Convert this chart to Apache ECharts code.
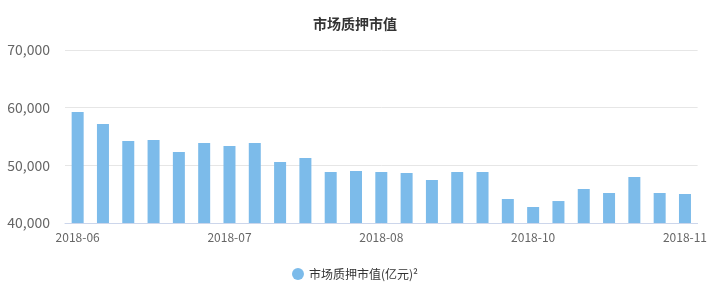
<!DOCTYPE html>
<html>
<head>
<meta charset="utf-8">
<script src="https://cdn.jsdelivr.net/npm/echarts@6/dist/echarts.min.js"></script>
<style>html,body{margin:0;padding:0;background:#fff;}#main{width:710px;height:288px;}</style>
</head>
<body>
<div id="main"></div>
<script>
var titleText = '市场质押市值';
var seriesName = '市场质押市值(亿元)²';
var categories = [
  '2018-06-01','2018-06-08','2018-06-15','2018-06-22','2018-06-29','2018-07-06',
  '2018-07-13','2018-07-20','2018-07-27','2018-08-03','2018-08-10','2018-08-17',
  '2018-08-24','2018-08-31','2018-09-07','2018-09-14','2018-09-21','2018-09-28',
  '2018-10-12','2018-10-19','2018-10-26','2018-11-02','2018-11-09','2018-11-16',
  '2018-11-23'
];
var values = [
  59250, 57170, 54220, 54390, 52310, 53870,
  53350, 53870, 50580, 51270, 48840, 49020,
  48840, 48670, 47460, 48840, 48840, 44160,
  42770, 43810, 45900, 45200, 47980, 45200,
  45030
];
var yMin = 40000, yMax = 70000, yStep = 10000;

var font = '"Microsoft YaHei","Noto Sans CJK SC",sans-serif';
var chart = echarts.init(document.getElementById('main'));
chart.setOption({
  animation: false,
  textStyle: { fontFamily: font },
  title: {
    text: titleText, left: 'center', top: 12,
    textStyle: { fontSize: 14, fontWeight: 'bold', color: '#333', fontFamily: font }
  },
  legend: {
    bottom: 3, left: 'center', icon: 'circle', itemWidth: 12, itemHeight: 12, itemGap: 10,
    textStyle: { fontSize: 12, color: '#333', fontFamily: font },
    data: [seriesName]
  },
  grid: { left: 65, right: 11, top: 50, bottom: 65, containLabel: false },
  xAxis: {
    type: 'category', data: categories, boundaryGap: true,
    axisLine: { lineStyle: { color: '#ccd6eb' } },
    axisTick: { alignWithLabel: true, interval: 5, length: 6, lineStyle: { color: '#ccd6eb' } },
    axisLabel: {
      interval: 5, fontSize: 12, color: '#666', margin: 8,
      formatter: function (v) { return v.slice(0, 7); }
    }
  },
  yAxis: {
    type: 'value', min: yMin, max: yMax, interval: yStep,
    axisLine: { show: false }, axisTick: { show: false },
    splitLine: { lineStyle: { color: '#e6e6e6' } },
    axisLabel: {
      fontSize: 14, color: '#666', margin: 15,
      formatter: function (v) { return v.toLocaleString('en-US'); }
    }
  },
  series: [{
    name: seriesName, type: 'bar', data: values, barWidth: 12,
    itemStyle: { color: '#7cbbea' }
  }]
});
</script>
</body>
</html>
